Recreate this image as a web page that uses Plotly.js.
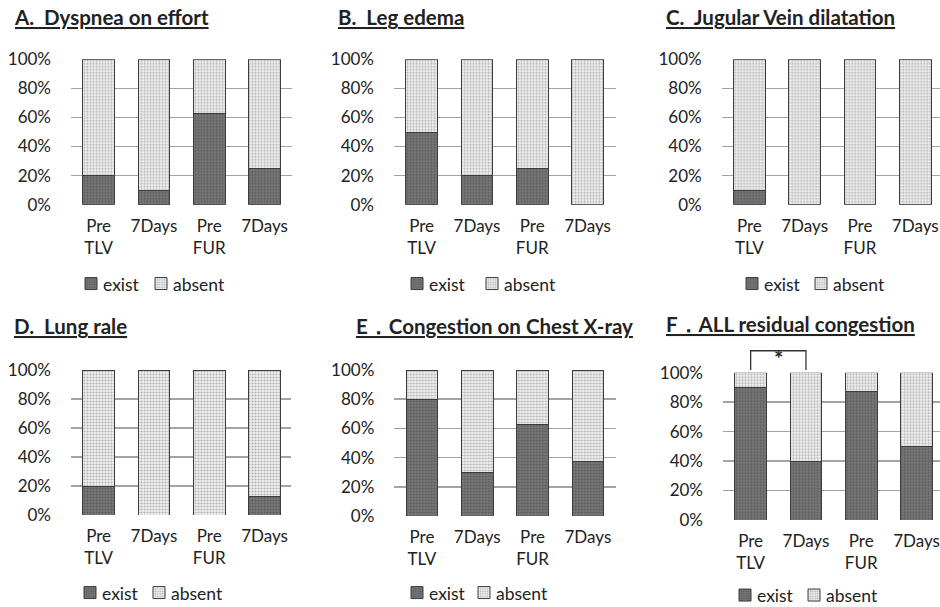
<!DOCTYPE html>
<html>
<head>
<meta charset="utf-8">
<script src="https://cdn.plot.ly/plotly-3.0.1.min.js"></script>
<style>
  html, body { margin: 0; padding: 0; background: #fff; }
  #chart { width: 940px; height: 607px; }
</style>
</head>
<body>
<div id="chart"></div>
<script>
// Category labels shared by all six panels
const categories = ['Pre<br>TLV', '7Days', 'Pre<br>FUR', '7Days'];
const yTickVals = [0, 20, 40, 60, 80, 100];
const yTickText = ['0%', '20%', '40%', '60%', '80%', '100%'];
const seriesNames = ['exist', 'absent'];

// Percentage of patients with each finding (exist) / without it (absent)
const dyspneaExist = [20, 10, 62.5, 25];
const dyspneaAbsent = [80, 90, 37.5, 75];
const edemaExist = [50, 20, 25, 0];
const edemaAbsent = [50, 80, 75, 100];
const jugularExist = [10, 0, 0, 0];
const jugularAbsent = [90, 100, 100, 100];
const raleExist = [20, 0, 0, 12.5];
const raleAbsent = [80, 100, 100, 87.5];
const xrayExist = [80, 30, 62.5, 37.5];
const xrayAbsent = [20, 70, 37.5, 62.5];
const allExist = [90, 40, 87.5, 50];
const allAbsent = [10, 60, 12.5, 50];

const panelTitles = [
  'A.  Dyspnea on effort',
  'B.  Leg edema',
  'C.  Jugular Vein dilatation',
  'D.  Lung rale',
  'E．Congestion on Chest X-ray',
  'F．ALL residual congestion'
];

const W = 940, H = 607;
const FONT = 'Lato, "Open Sans", sans-serif';
const TXT = '#222222';

// Pixel geometry of each panel:
// box = plot area [left, right, top, bottom], title = [left, middle y],
// swatch = legend swatch centres [exist x, absent x, y]
const panels = [
  { exist: dyspneaExist, absent: dyspneaAbsent, box: [71, 292, 59.3, 204.7],  title: [12, 17],   swatch: [91, 161, 284] },
  { exist: edemaExist,   absent: edemaAbsent,   box: [394, 616, 59.3, 204.7], title: [336, 17],  swatch: [417, 492, 284] },
  { exist: jugularExist, absent: jugularAbsent, box: [721.7, 940, 59.3, 204.7], title: [664, 17], swatch: [752, 821, 284] },
  { exist: raleExist,    absent: raleAbsent,    box: [71, 291, 370, 515],     title: [12, 326],  swatch: [90, 159, 593] },
  { exist: xrayExist,    absent: xrayAbsent,    box: [394.3, 616, 370, 516],  title: [354, 326], swatch: [417, 484, 593] },
  { exist: allExist,     absent: allAbsent,     box: [723, 940, 372.7, 520],  title: [664, 324], swatch: [745, 814, 595.5] }
];
const STEP = 55.3;          // pixels per category
const SWATCH_OFFSET = 20;   // legend left edge -> swatch centre
const LABEL_GAP = 10.5;     // swatch centre -> label start

const existStyle = {
  color: '#727272',
  line: { color: '#3c3c3c', width: 1 },
  pattern: { shape: '.', bgcolor: '#777777', fgcolor: '#5a5a5a', size: 3, solidity: 0.35, fillmode: 'replace' }
};
const absentStyle = {
  color: '#e6e6e6',
  line: { color: '#3c3c3c', width: 1 },
  pattern: { shape: '.', bgcolor: '#f2f2f2', fgcolor: '#b0b0b0', size: 3, solidity: 0.4, fillmode: 'replace' }
};

const traces = [];
const layout = {
  width: W, height: H,
  margin: { l: 0, r: 0, t: 0, b: 0, autoexpand: false },
  paper_bgcolor: '#ffffff', plot_bgcolor: '#ffffff',
  barmode: 'stack', bargap: 0.43,
  font: { family: FONT, size: 17, color: TXT },
  hovermode: false, showlegend: true,
  annotations: [], shapes: []
};

// One single-entry legend per swatch; the swatch label is set as an annotation
function legendBox(cx, cy) {
  return {
    orientation: 'h', x: (cx - SWATCH_OFFSET) / W, y: 1 - cy / H,
    xanchor: 'left', yanchor: 'middle',
    font: { family: FONT, size: 17, color: TXT },
    itemclick: false, itemdoubleclick: false,
    bgcolor: 'rgba(0,0,0,0)', borderwidth: 0
  };
}
function legendLabel(text, cx, cy) {
  return {
    xref: 'paper', yref: 'paper', x: (cx + LABEL_GAP) / W, y: 1 - cy / H,
    xanchor: 'left', yanchor: 'middle', showarrow: false, borderpad: 0,
    text: text, font: { family: FONT, size: 17.5, color: TXT }
  };
}

let legendCount = 0;
function nextLegendId() {
  legendCount += 1;
  return legendCount === 1 ? 'legend' : 'legend' + legendCount;
}

panels.forEach((p, i) => {
  const n = i + 1;
  const sfx = n === 1 ? '' : String(n);
  const xa = 'x' + sfx, ya = 'y' + sfx;
  const xpos = categories.map((c, k) => k);
  const [l, r, t, b] = p.box;
  const [sx1, sx2, sy] = p.swatch;

  const existLegend = nextLegendId();
  const absentLegend = nextLegendId();
  layout[existLegend] = legendBox(sx1, sy);
  layout[absentLegend] = legendBox(sx2, sy);
  layout.annotations.push(legendLabel(seriesNames[0], sx1, sy));
  layout.annotations.push(legendLabel(seriesNames[1], sx2, sy));

  traces.push({
    type: 'bar', name: '', x: xpos, y: p.exist, xaxis: xa, yaxis: ya,
    marker: existStyle, legend: existLegend, showlegend: true
  });
  traces.push({
    type: 'bar', name: '', x: xpos, y: p.absent, xaxis: xa, yaxis: ya,
    marker: absentStyle, legend: absentLegend, showlegend: true
  });

  layout['xaxis' + sfx] = {
    domain: [l / W, r / W], anchor: ya,
    range: [-0.5, -0.5 + (r - l) / STEP],
    tickmode: 'array', tickvals: xpos, ticktext: categories,
    showgrid: false, zeroline: false, showline: false, ticks: '',
    tickfont: { family: FONT, size: 17, color: TXT },
    ticklabelstandoff: 9, ticklabeloverflow: 'allow', fixedrange: true
  };
  layout['yaxis' + sfx] = {
    domain: [1 - b / H, 1 - t / H], anchor: xa,
    range: [0, 100],
    tickmode: 'array', tickvals: yTickVals, ticktext: yTickText,
    showgrid: true, gridcolor: '#a3a3a3', gridwidth: 1.5,
    zeroline: false, showline: false, ticks: '',
    tickfont: { family: FONT, size: 17, color: TXT },
    ticklabelstandoff: 19, fixedrange: true
  };
  layout.annotations.push({
    xref: 'paper', yref: 'paper', x: p.title[0] / W, y: 1 - p.title[1] / H,
    xanchor: 'left', yanchor: 'middle', showarrow: false,
    text: '<b><u>' + panelTitles[i] + '</u></b>',
    font: { family: FONT, size: 20.5, color: TXT }
  });
});

// Significance bracket between Pre TLV and 7Days in panel F
layout.shapes.push({
  type: 'path', xref: 'x6', yref: 'y6 domain',
  path: 'M 0,1.018 L 0,1.149 L 1,1.149 L 1,1.018',
  line: { color: '#333333', width: 1.3 }
});
layout.annotations.push({
  xref: 'x6', yref: 'y6 domain', x: 0.5, y: 1.205, showarrow: false,
  text: '<b>*</b>', font: { family: FONT, size: 22, color: TXT }
});

Plotly.newPlot('chart', traces, layout, { staticPlot: true, displayModeBar: false });
</script>
</body>
</html>
